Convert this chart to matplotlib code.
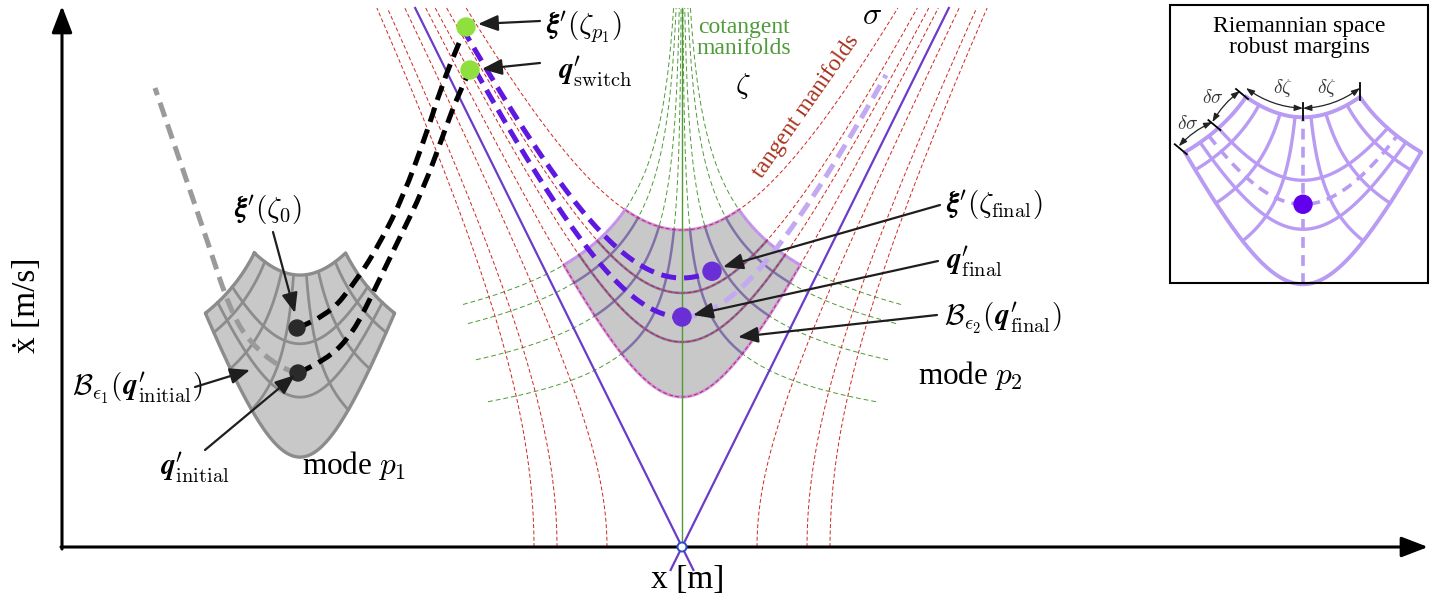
import numpy as np
import matplotlib
matplotlib.use('Agg')
import matplotlib.pyplot as plt
from matplotlib.path import Path
from matplotlib.patches import PathPatch, Polygon, Rectangle, Circle

plt.rcParams['font.family'] = ['Liberation Serif', 'DejaVu Serif']
plt.rcParams['mathtext.fontset'] = 'cm'

# ---- geometry (pixel units, y grows downward) ----
origin = (682, 547)          # crossing point of the manifolds on the x axis
slope = 2.02                 # slope of the purple asymptotes
top_y = 8                    # upper end of all manifolds

sigma_side = [75, 125, 148]          # sideways tangent manifolds: half width on the axis
sigma_up = [150, 205, 254, 317]      # upward tangent manifolds: vertex height
zeta_top = [57, 44, 23, 8]           # cotangent manifolds: offset where they cut the top arc
zeta_end = [219, 214, 206, 194]      # cotangent manifolds: outer end offset

# trajectories in mode p2 (they follow tangent manifolds)
traj_sigma = [269, 230]
traj_start_y = [28, 70]
traj_end_u = [30, 0]
ghost_end_y = 75

switch_pts = [(466, 27), (470, 70)]

# trajectories in mode p1, control points
traj_xi0 = [(297, 328), (327, 317), (357, 280), (380, 243), (403, 197),
            (426, 135), (442, 85), (458, 45), (466, 27)]
traj_qinit = [(298, 373), (327, 360), (353, 333), (373, 293), (400, 237),
              (423, 190), (445, 130), (458, 95), (470, 70)]
traj_back = [(298, 373), (283, 370), (250, 343), (230, 310), (207, 240),
             (183, 170), (155, 88)]
p1_dots = [(297, 328), (298, 373)]

k = slope
a = k ** 2
V_TOP = origin[1] - top_y


def px(u, v, x0=origin[0], y0=origin[1]):
    return x0 + np.asarray(u), y0 - np.asarray(v)


def zeta_K(ut):
    vt = np.sqrt(sigma_up[-1] ** 2 + (k * ut) ** 2)
    return ut * vt ** a


def meet(K, v0):
    lo, hi = 1.0, 800.0
    for _ in range(60):
        mid = (lo + hi) / 2
        if mid ** 2 - (k * K * mid ** -a) ** 2 < v0 ** 2:
            lo = mid
        else:
            hi = mid
    return lo


def smooth(pts):
    pts = np.asarray(pts, float)
    verts = [pts[0]]
    codes = [Path.MOVETO]
    for i in range(1, len(pts) - 1):
        end = pts[-1] if i == len(pts) - 2 else (pts[i] + pts[i + 1]) / 2
        verts += [pts[i], end]
        codes += [Path.CURVE3, Path.CURVE3]
    return Path(verts, codes)


fig = plt.figure(figsize=(14.35, 6.05), dpi=100)
ax = fig.add_axes([0, 0, 1, 1])
ax.set_xlim(0, 1435)
ax.set_ylim(605, 0)
ax.axis('off')

red = '#cf2520'
green = '#4f9a35'
violet = '#6a3cc8'

# ---- tangent manifolds (sigma) ----
for u0 in sigma_side:
    v = np.linspace(0, V_TOP, 300)
    u = np.sqrt(u0 ** 2 + (v / k) ** 2)
    for s in (-1, 1):
        ax.plot(*px(s * u, v), color=red, lw=0.7, ls=(0, (4, 2.5)), zorder=3)
for v0 in sigma_up:
    um = np.sqrt(V_TOP ** 2 - v0 ** 2) / k
    u = np.linspace(-um, um, 500)
    ax.plot(*px(u, np.sqrt(v0 ** 2 + (k * u) ** 2)), color=red, lw=0.7,
            ls=(0, (4, 2.5)), zorder=3)

# ---- cotangent manifolds (zeta) ----
for ut, ue in zip(zeta_top, zeta_end):
    K = zeta_K(ut)
    v_lo = (K / ue) ** (1 / a)
    v = np.geomspace(v_lo, V_TOP, 300)
    for s in (-1, 1):
        ax.plot(*px(s * K * v ** -a, v), color=green, lw=0.7,
                ls=(0, (5, 3)), zorder=1)
ax.plot([origin[0], origin[0]], [top_y, origin[1]], color=green, lw=1.0, zorder=4)

# ---- asymptotes ----
for s in (-1, 1):
    v = np.array([-23, V_TOP])
    ax.plot(*px(s * v / k, v), color=violet, lw=1.6, zorder=2)


# ---- region grid built in (u, v), placed by a mapping ----
K1 = zeta_K(zeta_top[0])
s_lo, s_hi = sigma_up[0], sigma_up[-1]
v_tc = meet(K1, s_hi)
v_oc = meet(K1, s_lo)


def region_outline():
    vv = np.linspace(v_oc, v_tc, 60)
    side = K1 * vv ** -a
    ut = np.linspace(-K1 * v_tc ** -a, K1 * v_tc ** -a, 120)
    ub = np.linspace(K1 * v_oc ** -a, -K1 * v_oc ** -a, 160)
    u = np.concatenate([ut, side[::-1], ub, -side])
    v = np.concatenate([np.sqrt(s_hi ** 2 + (k * ut) ** 2), vv[::-1],
                        np.sqrt(s_lo ** 2 + (k * ub) ** 2), vv])
    return u, v


def region_arcs(levels):
    out = []
    for s in levels:
        um = K1 * meet(K1, s) ** -a
        u = np.linspace(-um, um, 120)
        out.append((u, np.sqrt(s ** 2 + (k * u) ** 2)))
    return out


def region_rays(uts):
    out = []
    for ut in uts:
        K = zeta_K(ut)
        v = np.linspace(meet(K, s_lo), meet(K, s_hi), 80)
        for sg in (-1, 1):
            out.append((sg * K * v ** -a, v))
    return out


p2_top = origin[1] - v_tc


def map_p2(u, v):
    return px(u, v)


def map_p1(u, v):
    x, y = px(u, v)
    return 300 + 0.8 * (x - origin[0]), 253 + 1.09 * (y - p2_top)


def map_inset(u, v):
    x, y = px(u, v)
    return x + 621, y - (p2_top - 97)


def draw_region(mapper, face, edge, grid, lw, z, arcs, rays, alpha=1.0):
    u, v = region_outline()
    x, y = mapper(u, v)
    if face is not None:
        ax.add_patch(Polygon(np.column_stack([x, y]), closed=True, fc=face,
                             ec='none', zorder=z))
    for uu, vv in region_arcs(arcs) + region_rays(rays):
        ax.plot(*mapper(uu, vv), color=grid, lw=lw, alpha=alpha, zorder=z + 0.2)
    ax.plot(x, y, color=edge, lw=lw + 0.4, alpha=alpha, zorder=z + 0.1)


# mode p2 region
draw_region(map_p2, '#c8c8c8', '#c58ded', '#7a68a6', 1.8, 2.5,
            sigma_up[1:3], zeta_top[1:], alpha=0.9)
# mode p1 region
draw_region(map_p1, '#c8c8c8', '#8c8c8c', '#8c8c8c', 2.0, 2.5,
            sigma_up[1:3], zeta_top[1:])
# inset region
draw_region(map_inset, None, '#b99bf3', '#b99bf3', 2.4, 6,
            sigma_up[1:3], zeta_top[1:])
xi, yi = map_inset([0, 0], [s_lo, s_hi])
ax.plot(xi, yi, color='#b99bf3', lw=2.6, ls=(0, (3, 2)), zorder=6.2)
um = K1 * meet(K1, traj_sigma[1]) ** -a
uu = np.linspace(-um, um, 120)
ax.plot(*map_inset(uu, np.sqrt(traj_sigma[1] ** 2 + (k * uu) ** 2)),
        color='#b99bf3', lw=2.6, ls=(0, (3, 2)), zorder=6.2)
dx_, dy_ = map_inset(0, traj_sigma[1])
ax.add_patch(Circle((float(dx_), float(dy_)), 9, color='#6200ee', zorder=7))

# ---- mode p2 trajectories ----
traj_col = '#5e18e0'
dash = (0, (3.0, 1.6))
for s, ys, ue in zip(traj_sigma, traj_start_y, traj_end_u):
    us = -np.sqrt((origin[1] - ys) ** 2 - s ** 2) / k
    u = np.linspace(us, ue, 300)
    ax.plot(*px(u, np.sqrt(s ** 2 + (k * u) ** 2)), color=traj_col, lw=3.6,
            ls=dash, zorder=8)
    ax.add_patch(Circle(tuple(float(c) for c in px(ue, np.sqrt(s ** 2 + (k * ue) ** 2))),
                        9, color='#6a2ed6', zorder=9))
ue = np.sqrt((origin[1] - ghost_end_y) ** 2 - traj_sigma[1] ** 2) / k
u = np.linspace(0, ue, 200)
ax.plot(*px(u, np.sqrt(traj_sigma[1] ** 2 + (k * u) ** 2)), color='#c3a9f2',
        lw=3.6, ls=dash, zorder=7)

# ---- mode p1 trajectories ----
ax.add_patch(PathPatch(smooth(traj_back), fill=False, ec='#9a9a9a', lw=3.6,
                       ls=dash, zorder=7))
for pts in (traj_xi0, traj_qinit):
    ax.add_patch(PathPatch(smooth(pts), fill=False, ec='black', lw=3.6,
                           ls=dash, zorder=8))
for p in p1_dots:
    ax.add_patch(Circle(p, 8, color='#2a2a2a', zorder=9))
for p in switch_pts:
    ax.add_patch(Circle(p, 9, color='#8fe03f', zorder=10))

# ---- axes ----
head = dict(arrowstyle='-|>,head_length=0.65,head_width=0.25', lw=2.2,
            color='black', mutation_scale=25, shrinkA=0, shrinkB=0)
ax.annotate('', xy=(62, 6), xytext=(62, 549), arrowprops=head, zorder=12)
ax.annotate('', xy=(1428, 547), xytext=(61, 547), arrowprops=head, zorder=12)
ax.add_patch(Circle(origin, 4.5, fc='white', ec='#2b4fc9', lw=1.4, zorder=13))
ax.text(688, 580, 'x [m]', fontsize=24, ha='center', va='center')
ax.text(27, 305, 'ẋ [m/s]', fontsize=24, ha='center', va='center', rotation=90)

# ---- labels with arrows ----
small = dict(arrowstyle='-|>,head_length=0.55,head_width=0.22', lw=1.6,
             color='#1e1e1e', mutation_scale=22, shrinkA=0, shrinkB=0)
pointers = [((540, 21), (478, 24)), ((540, 63), (482, 69)),
            ((940, 205), (723, 267)), ((938, 261), (693, 315)),
            ((937, 315), (738, 337)), ((273, 232), (295, 313)),
            ((195, 387), (250, 370)), ((205, 450), (295, 375))]
for tail, tip in pointers:
    ax.annotate('', xy=tip, xytext=tail, arrowprops=small, zorder=11)

fs = 21
ax.text(546, 27, r"$\mathbfit{\xi}^{\prime}(\zeta_{p_1})$", fontsize=fs, va='center')
ax.text(558, 72, r"$\mathbfit{q}^{\prime}_{\mathrm{switch}}$", fontsize=fs, va='center')
ax.text(946, 205, r"$\mathbfit{\xi}^{\prime}(\zeta_{\mathrm{final}})$", fontsize=fs, va='center')
ax.text(946, 262, r"$\mathbfit{q}^{\prime}_{\mathrm{final}}$", fontsize=fs, va='center')
ax.text(944, 318, r"$\mathcal{B}_{\epsilon_2}(\mathbfit{q}^{\prime}_{\mathrm{final}})$",
        fontsize=fs, va='center')
ax.text(918, 376, r"mode $p_2$", fontsize=22.5, va='center')
ax.text(234, 210, r"$\mathbfit{\xi}^{\prime}(\zeta_0)$", fontsize=fs, va='center')
ax.text(72, 388, r"$\mathcal{B}_{\epsilon_1}(\mathbfit{q}^{\prime}_{\mathrm{initial}})$",
        fontsize=fs, va='center')
ax.text(160, 468, r"$\mathbfit{q}^{\prime}_{\mathrm{initial}}$", fontsize=fs, va='center')
ax.text(302, 466, r"mode $p_1$", fontsize=22.5, va='center')

ax.text(744, 38, 'cotangent\nmanifolds', fontsize=17, color='#4f9a3a',
        ha='center', va='center', linespacing=0.95)
ax.text(743, 86, r'$\zeta$', fontsize=21, ha='center', va='center')
ax.text(872, 17, r'$\sigma$', fontsize=23, ha='center', va='center')
ax.text(806, 106, 'tangent manifolds', fontsize=17, color='#a8321e',
        ha='center', va='center', rotation=55)

# ---- inset ----
ax.add_patch(Rectangle((1170, 5), 258, 278, fill=False, ec='black', lw=1.5, zorder=14))
ax.text(1299, 37, 'Riemannian space\nrobust margins', fontsize=17, ha='center',
        va='center', linespacing=1.0)

xt, yt = map_inset(np.array([-K1 * v_tc ** -a, 0, K1 * v_tc ** -a]),
                   np.array([v_tc, s_hi, v_tc]))
xm, ym = map_inset(-K1 * meet(K1, sigma_up[2]) ** -a, meet(K1, sigma_up[2]))
xo, yo = map_inset(-K1 * v_oc ** -a, v_oc)
marks = [(float(xo), float(yo)), (float(xm), float(ym)), (float(xt[0]), float(yt[0]))]
top_marks = [(float(xt[0]), float(yt[0])), (float(xt[1]), float(yt[1])),
             (float(xt[2]), float(yt[2]))]
dd = dict(arrowstyle='<|-|>,head_length=0.5,head_width=0.18', lw=0.9,
          color='#222222', mutation_scale=10, shrinkA=0, shrinkB=0)
off = np.array([-6, -6])
for p, q in zip(marks[:-1], marks[1:]):
    ax.annotate('', xy=tuple(np.array(q) + off), xytext=tuple(np.array(p) + off),
                arrowprops=dict(dd, connectionstyle='arc3,rad=-0.1'), zorder=15)
for p, q in zip(top_marks[:-1], top_marks[1:]):
    ax.annotate('', xy=(q[0], q[1] - 9), xytext=(p[0], p[1] - 9),
                arrowprops=dict(dd, connectionstyle='arc3,rad=0.15'), zorder=15)
for p in marks:
    ax.plot([p[0] - 10, p[0] + 2], [p[1] - 8, p[1] + 2], color='black', lw=1.3, zorder=15)
for p in top_marks[1:]:
    ax.plot([p[0], p[0]], [p[1] - 14, p[1] + 3], color='black', lw=1.3, zorder=15)
ax.text(1188, 124, r'$\delta\sigma$', fontsize=14, color='#333333', ha='center', va='center')
ax.text(1213, 98, r'$\delta\sigma$', fontsize=14, color='#333333', ha='center', va='center')
ax.text(1283, 88, r'$\delta\zeta$', fontsize=14, color='#333333', ha='center', va='center')
ax.text(1327, 88, r'$\delta\zeta$', fontsize=14, color='#333333', ha='center', va='center')

fig.savefig('out.png', dpi=100)
